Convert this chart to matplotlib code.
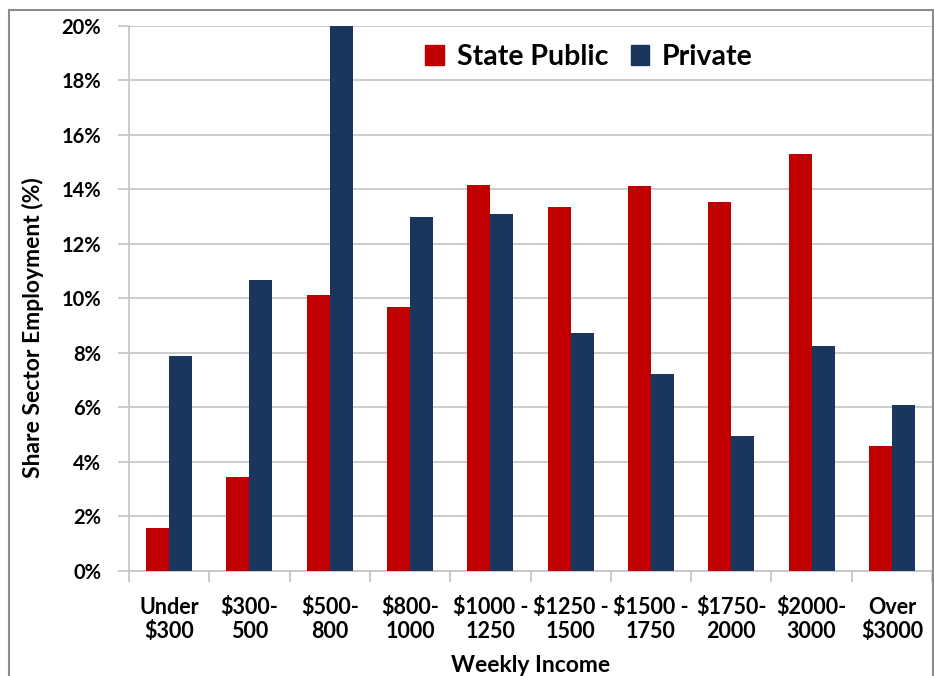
import numpy as np
import matplotlib
matplotlib.use("Agg")
import matplotlib.pyplot as plt
from matplotlib.patches import Rectangle, Patch
from matplotlib.ticker import FuncFormatter, FixedLocator

# Share of sector employment by weekly income band
categories = ["Under\n$300", "$300-\n500", "$500-\n800", "$800-\n1000", "$1000 -\n1250",
              "$1250 -\n1500", "$1500 -\n1750", "$1750-\n2000", "$2000-\n3000", "Over\n$3000"]
state_public = [1.56, 3.43, 10.14, 9.70, 14.15, 13.37, 14.11, 13.54, 15.30, 4.59]
private = [7.88, 10.68, 20.0, 12.98, 13.08, 8.72, 7.24, 4.94, 8.25, 6.08]

RED = "#C00000"
NAVY = "#1B365D"
GRID = "#C4C4C4"

plt.rcParams["font.family"] = ["Lato", "DejaVu Sans"]
plt.rcParams["font.weight"] = "bold"

W, H = 934, 676
fig = plt.figure(figsize=(W / 100, H / 100), dpi=100)
ax = fig.add_axes([129 / W, (H - 570.7) / H, (932 - 129) / W, (570.7 - 26) / H])

x = np.arange(len(categories))
bw = 0.286
ax.bar(x - bw / 2, state_public, bw, color=RED, zorder=3)
ax.bar(x + bw / 2, private, bw, color=NAVY, zorder=3)

ax.set_xlim(-0.5, len(categories) - 0.5)
ax.set_ylim(0, 20)
ax.set_yticks(np.arange(0, 21, 2))
ax.yaxis.set_major_formatter(FuncFormatter(lambda v, p: f"{v:.0f}%"))
ax.grid(axis="y", color=GRID, lw=1.2, zorder=0)
ax.tick_params(axis="y", length=8, width=1.2, color=GRID, pad=12, labelsize=14.5)

# category labels sit between boundary ticks
ax.xaxis.set_major_locator(FixedLocator(np.arange(-0.5, len(categories), 1.0)))
ax.xaxis.set_major_formatter(FuncFormatter(lambda v, p: ""))
ax.xaxis.set_minor_locator(FixedLocator(x))
ax.set_xticklabels(categories, minor=True)
ax.tick_params(axis="x", which="major", length=8, width=1.2, color=GRID)
ax.tick_params(axis="x", which="minor", length=0, pad=19, labelsize=15.5)
for lab in ax.get_xticklabels(minor=True):
    lab.set_linespacing(1.15)

for side in ("top", "right"):
    ax.spines[side].set_visible(False)
for side in ("left", "bottom"):
    ax.spines[side].set_color(GRID)
    ax.spines[side].set_linewidth(1.2)

fig.text(33 / W, 1 - 328 / H, "Share Sector Employment (%)", rotation=90,
         ha="center", va="center", fontsize=16.5)
fig.text(531 / W, 1 - 672 / H, "Weekly Income", ha="center", va="baseline", fontsize=16.5)

handles = [Patch(color=RED, label="State Public"), Patch(color=NAVY, label="Private")]
fig.legend(handles=handles, loc="center", bbox_to_anchor=(589 / W, 1 - 57 / H), ncol=2,
           frameon=False, fontsize=20.5, handlelength=0.65, handleheight=0.65,
           handletextpad=0.45, columnspacing=0.8)

# outer chart border
fig.add_artist(Rectangle((8.5 / W, -0.05), (932.5 - 8.5) / W, 1.05 - 10.5 / H,
                         transform=fig.transFigure, fill=False, ec="#8C8C8C", lw=1.5,
                         clip_on=False))

fig.savefig("out.png", dpi=100)
